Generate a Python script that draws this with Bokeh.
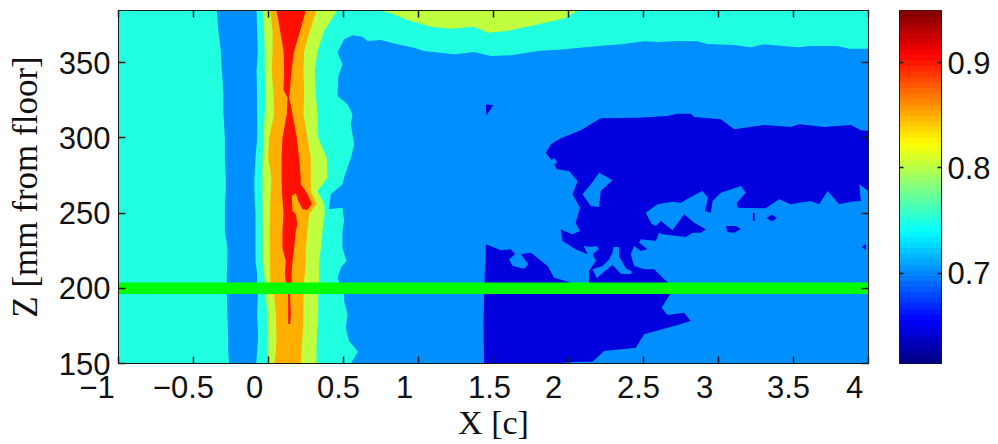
from bokeh.embed import file_html
from bokeh.resources import INLINE
from bokeh.plotting import figure
from bokeh.layouts import row
from bokeh.models import FixedTicker, LinearAxis, Range1d

# axes
x_ticks = [-1, -0.5, 0, 0.5, 1, 1.5, 2, 2.5, 3, 3.5, 4]
x_tick_labels = ["\u22121\u00a0\u00a0\u00a0\u00a0\u00a0", "\u22120.5", "0", "0.5", "1", "1.5", "2", "2.5", "3", "3.5", "4"]
x_label_at = [-1, -0.567, -0.093, 0.467, 0.907, 1.473, 1.9, 2.467, 2.907, 3.467, 3.907]
z_ticks = [150, 200, 250, 300, 350]
cb_ticks = [0.7, 0.8, 0.9]
cb_low, cb_high = 0.6144, 0.9495
x_lim = [-1, 4]
z_lim = [150, 384.7]
slice_z = [200, 200]

# band colours
c_dark, c_blue, c_teal, c_lime, c_orange, c_red, c_green = (
    "#0000DF", "#008FFF", "#20FFDF", "#BFFF40", "#FFAF00", "#FF1000", "#00FF00")

# vertical jet: contour crossings at each height
z_rows = [385, 371.1, 357.8, 344.5, 329.2, 315.9, 299.9, 286.6, 273.3, 264.7, 256, 249.4,
          238.1, 226.8, 218.2, 209.5, 204.9, 194.9, 182.9, 167, 158.3, 150]
blue_left = [-0.345, -0.334, -0.318, -0.311, -0.3, -0.3, -0.291, -0.291, -0.285, -0.285, -0.291, -0.291,
             -0.291, -0.274, -0.274, -0.278, -0.278, -0.278, -0.274, -0.269, -0.269, -0.262]
blue_right = [-0.08, -0.076, -0.071, -0.08, -0.076, -0.076, -0.076, -0.087, -0.094, -0.094, -0.091, -0.087,
              -0.087, -0.087, -0.087, -0.076, -0.076, -0.071, -0.076, -0.069, -0.076, -0.082]
lime_left = [-0.04, -0.029, -0.025, -0.025, -0.018, -0.025, -0.033, -0.04, -0.04, -0.04, -0.04, -0.04,
             -0.04, -0.04, -0.04, -0.029, -0.025, -0.018, -0.007, -0.002, -0.002, -0.007]
lime_right = [0.46, 0.371, 0.327, 0.309, 0.315, 0.327, 0.331, 0.389, 0.393, 0.327, 0.371, 0.375,
              0.36, 0.349, 0.338, 0.338, 0.338, 0.331, 0.331, 0.322, 0.32, 0.32]
orange_left = [0.011, 0.027, 0.027, 0.022, 0.033, 0.038, 0.004, -0.002, 0.02, 0.015, 0.011, 0.011,
               0.007, 0.009, 0.009, 0.011, 0.011, 0.038, 0.049, 0.053, 0.049, 0.038]
orange_right = [0.32, 0.275, 0.238, 0.233, 0.238, 0.233, 0.26, 0.282, 0.282, 0.282, 0.322, 0.271,
                0.26, 0.249, 0.249, 0.242, 0.238, 0.233, 0.233, 0.227, 0.22, 0.215]

red_x = [0.053, 0.078, 0.1, 0.104, 0.1, 0.127, 0.122, 0.093, 0.087, 0.087, 0.089, 0.1, 0.093, 0.093, 0.115,
         0.109, 0.115, 0.131, 0.131, 0.144, 0.149, 0.144, 0.155, 0.153, 0.16, 0.171, 0.182, 0.193, 0.182, 0.16,
         0.155, 0.182, 0.198, 0.226, 0.26, 0.289, 0.26, 0.215, 0.215, 0.204, 0.189, 0.16, 0.138, 0.153, 0.171,
         0.211, 0.249]
red_z = [385, 371.1, 357.8, 344.5, 331.8, 326.7, 315.9, 299.9, 286.6, 273.3, 264.7, 249.4, 238.1, 226.8, 218.2,
         209.5, 204.9, 194.9, 176.3, 176.3, 182.9, 194.9, 204.9, 209.5, 218.2, 226.8, 238.1, 242.8, 249.4, 251.4,
         261.4, 263.4, 258, 252.7, 252, 256, 262.7, 269.4, 273.3, 286.6, 299.9, 315.9, 326.7, 344.5, 357.8,
         371.1, 385]

# top lobe
lobe_x = [0.727, 0.815, 0.927, 1.082, 1.215, 1.371, 1.46, 1.593, 1.749, 1.971, 2.037, 2.071]
lobe_z = [385, 382.9, 378.4, 373.9, 372.6, 373.9, 369.9, 371.1, 374.4, 379.3, 383.2, 385]

# main blue region
main_x = [0.549, 0.597, 0.537, 0.515, 0.527, 0.504, 0.504, 0.46, 0.482, 0.52, 0.493, 0.493, 0.504, 0.493, 0.404,
          0.415, 0.493, 0.504, 0.553, 0.571, 0.549, 0.56, 0.527, 0.46, 0.464, 0.493, 0.46, 0.504, 0.56, 0.627,
          0.66, 0.749, 0.86, 0.971, 1.037, 1.237, 1.371, 1.482, 1.615, 1.793, 1.971, 2.149, 2.26, 2.349, 2.504,
          2.593, 2.727, 2.86, 2.927, 3.104, 3.215, 3.304, 3.527, 3.615, 3.793, 3.871, 4, 4]
main_z = [150, 157.8, 165, 173.8, 182.7, 191.6, 195.5, 207, 213.7, 218.2, 227, 238.1, 244.7, 253.6, 252.5,
          262.5, 269.1, 273.5, 288, 295.7, 309, 315.7, 322.3, 327.9, 340, 348.9, 356.7, 365.6, 368.2, 367.3,
          364.4, 365.1, 362.2, 360, 357.8, 355.6, 357.1, 354.5, 354.9, 357.8, 358.9, 360.6, 361.6, 362.2, 364.2,
          363.8, 364.4, 364.2, 362.4, 361.8, 360.2, 362.2, 360.2, 361.1, 361.1, 359.3, 359.3, 150]

# dark region
dark_x = [1.437, 1.433, 1.442, 1.449, 1.549, 1.615, 1.644, 1.604, 1.627, 1.704, 1.733, 1.682, 1.749, 1.86, 1.904,
          2.004, 2.015, 2.135, 2.137, 2.137, 2.182, 2.162, 2.202, 2.189, 2.149, 2.102, 2.127, 2.047, 1.96, 1.949,
          1.971, 2.027, 2.077, 2.047, 2.077, 2.027, 2.06, 2.004, 1.922, 1.882, 1.849, 1.882, 1.949, 2.082, 2.215,
          2.46, 2.66, 2.727, 2.815, 2.837, 3.015, 3.104, 3.304, 3.482, 3.537, 3.704, 3.882, 3.949, 4, 4,
          3.938, 3.949, 3.882, 3.804, 3.727, 3.671, 3.615, 3.537, 3.482, 3.404, 3.315, 3.127, 3.122, 3.182, 3.149,
          3.015, 2.96, 2.949, 2.909, 2.931, 2.893, 2.827, 2.749, 2.693, 2.593, 2.515, 2.555, 2.582, 2.615, 2.693,
          2.771, 2.837, 2.915, 2.882, 2.827, 2.782, 2.627, 2.604, 2.582, 2.482, 2.471, 2.527, 2.482, 2.437, 2.415,
          2.437, 2.504, 2.571, 2.637, 2.661, 2.677, 2.62, 2.66, 2.771, 2.815, 2.704, 2.504, 2.449, 2.237, 2.16,
          2.06, 1.902]
dark_z = [150, 176.3, 209.5, 229.3, 225.3, 225.9, 222.6, 219.3, 214.8, 213, 216, 222.6, 223.7, 214.8, 207,
          204.2, 200.2, 200.2, 204.9, 211.5, 218.2, 222.8, 226.1, 228.1, 227.5, 228.1, 222.6, 225.9, 231.4, 239.2,
          238.1, 235.9, 238.1, 243.6, 253.6, 262.5, 271.3, 278, 279.1, 285.8, 290.2, 295.7, 299.7, 305, 313,
          313.4, 314.6, 316.1, 316.1, 313.9, 312.4, 305.7, 308.6, 307.2, 309, 307.2, 308.6, 305, 304.6, 264.7,
          269.2, 258, 257.6, 255.9, 264.7, 255.9, 258, 256.9, 255.9, 259.2, 253.2, 253.6, 256.9, 263.6, 268,
          263.6, 258, 250.3, 251.4, 260.2, 264.7, 261.3, 256.9, 257.6, 255.9, 250.3, 242.8, 241.4, 244.7, 238.6,
          249.2, 243.6, 239.2, 237, 237, 234.1, 235.9, 237, 231.5, 232.6, 230.3, 225.9, 224.8, 228.1, 222.6,
          214.8, 212.6, 212.6, 206, 204.2, 196, 187.1, 182.2, 183.8, 178.3, 174.9, 169.4, 160.5, 158.3, 151.2,
          151.2, 150]

# blue islands inside the dark region
isle_x = [[2.204, 2.293, 2.215, 2.204, 2.149, 2.093, 2.149],
          [2.3, 2.337, 2.337, 2.382, 2.427, 2.411, 2.349, 2.293, 2.204, 2.189, 2.16, 2.227, 2.271, 2.293],
          [1.879, 1.902, 1.925, 1.902]]
isle_z = [[276.9, 271.8, 264.7, 254.1, 254.7, 262.5, 269.1],
          [227.5, 227.5, 221.5, 213.3, 210.8, 209.3, 209.7, 215.5, 208.2, 206.7, 212.6, 214.8, 219.3, 223.7],
          [284.2, 286.6, 284.2, 282]]

# dark specks inside the blue region
speck_x = [[3.049, 3.115, 3.149, 3.104, 3.06], [3.322, 3.355, 3.389, 3.355],
           [3.229, 3.242, 3.242, 3.229], [1.449, 1.5, 1.452], [3.955, 3.982, 3.982]]
speck_z = [[241.4, 241.4, 239.2, 237, 237.4], [246.7, 249.1, 246.7, 244.4],
           [250, 250, 244.7, 244.7], [322.2, 321.8, 314.9], [227.5, 229.5, 225.5]]


def jet(n):
    out = []
    for i in range(n):
        t = (i + 0.5) / n
        r = min(1, max(0, min(4 * t - 1.5, 4.5 - 4 * t)))
        g = min(1, max(0, min(4 * t - 0.5, 3.5 - 4 * t)))
        b = min(1, max(0, min(4 * t + 0.5, 2.5 - 4 * t)))
        out.append("#%02X%02X%02X" % (round(r * 255), round(g * 255), round(b * 255)))
    return out


SANS = "Liberation Sans"
SERIF = "Liberation Serif"
INK = "#1a1a1a"
TEXT = "#111111"
TICK_PX = "31px"
TITLE_PX = "34px"


def tick_only(ax, ticks, tick_in=7):
    """Ticks without any labels."""
    ax.ticker = FixedTicker(ticks=ticks)
    ax.major_tick_in = tick_in
    ax.major_tick_out = 0
    ax.minor_tick_line_color = None
    ax.axis_line_color = INK
    ax.major_tick_line_color = INK
    ax.major_tick_line_width = 1.5


def blank(ax):
    ax.major_label_text_color = None
    ax.major_label_text_font_size = "1px"
    ax.major_label_standoff = 0
    ax.major_label_overrides = {t: "" for t in ax.ticker.ticks}


p = figure(frame_width=750, frame_height=353, output_backend="svg", toolbar_location=None,
           x_range=Range1d(*x_lim), y_range=Range1d(*z_lim),
           min_border_left=118, min_border_right=23, min_border_top=10, min_border_bottom=70,
           background_fill_color=c_teal, x_axis_location=None, y_axis_location=None)
p.grid.visible = False
p.outline_line_color = INK

p.patch(blue_left + blue_right[::-1], z_rows + z_rows[::-1], color=c_blue, line_width=0)
p.patch(main_x, main_z, color=c_blue, line_width=0)
p.patch(dark_x, dark_z, color=c_dark, line_width=0)
p.patches(isle_x, isle_z, color=c_blue, line_width=0)
p.patches(speck_x, speck_z, color=c_dark, line_width=0)
p.patch(lobe_x, lobe_z, color=c_lime, line_width=0)
p.patch(lime_left + lime_right[::-1], z_rows + z_rows[::-1], color=c_lime, line_width=0)
p.patch(orange_left + orange_right[::-1], z_rows + z_rows[::-1], color=c_orange, line_width=0)
p.patch(red_x, red_z, color=c_red, line_width=0)
p.line(x_lim, slice_z, color=c_green, line_width=11.5, line_cap="butt")

# bottom: ticks on one axis, labels (which sit beside the ticks in the reference) on another
bottom_ticks = LinearAxis()
tick_only(bottom_ticks, x_ticks)
blank(bottom_ticks)
p.add_layout(bottom_ticks, "below")

bottom_text = LinearAxis(ticker=FixedTicker(ticks=x_label_at),
                         major_label_overrides=dict(zip(x_label_at, x_tick_labels)),
                         major_tick_in=0, major_tick_out=0, minor_tick_line_color=None,
                         axis_line_color=None, major_tick_line_color=None,
                         major_label_text_font=SANS, major_label_text_font_size=TICK_PX,
                         major_label_text_color=TEXT, major_label_standoff=6,
                         axis_label="X [c]", axis_label_text_font=SERIF,
                         axis_label_text_font_style="normal", axis_label_text_font_size=TITLE_PX,
                         axis_label_text_color=TEXT, axis_label_standoff=-4)
p.add_layout(bottom_text, "below")

left = LinearAxis(major_label_text_font=SANS, major_label_text_font_size=TICK_PX,
                  major_label_text_color=TEXT, major_label_standoff=8,
                  axis_label="Z [mm from floor]", axis_label_text_font=SERIF,
                  axis_label_text_font_style="normal", axis_label_text_font_size="35px",
                  axis_label_text_color=TEXT, axis_label_standoff=11)
tick_only(left, z_ticks)
p.add_layout(left, "left")

top = LinearAxis()
tick_only(top, x_ticks)
blank(top)
p.add_layout(top, "above")
right = LinearAxis()
tick_only(right, z_ticks)
blank(right)
p.add_layout(right, "right")

# colour bar
n_steps = 64
step = (cb_high - cb_low) / n_steps
edges = [cb_low + i * step for i in range(n_steps + 1)]
cb_colors = jet(n_steps)
cb = figure(frame_width=42, frame_height=353, output_backend="svg", toolbar_location=None,
            x_range=Range1d(0, 1), y_range=Range1d(cb_low, cb_high),
            min_border_left=8, min_border_right=55, min_border_top=10, min_border_bottom=70,
            x_axis_location=None, y_axis_location=None)
cb.grid.visible = False
cb.outline_line_color = INK
cb.quad(left=0, right=1, bottom=edges[:-1], top=edges[1:], fill_color=cb_colors, line_color=cb_colors, line_width=1)
cb_left = LinearAxis()
tick_only(cb_left, cb_ticks, tick_in=4)
blank(cb_left)
cb.add_layout(cb_left, "left")
cb_right = LinearAxis(major_label_text_font=SANS, major_label_text_font_size=TICK_PX,
                      major_label_text_color=TEXT, major_label_standoff=6)
tick_only(cb_right, cb_ticks, tick_in=4)
cb.add_layout(cb_right, "right")

layout = row(p, cb, spacing=0)
open("out.html", "w").write(file_html(layout, INLINE))
